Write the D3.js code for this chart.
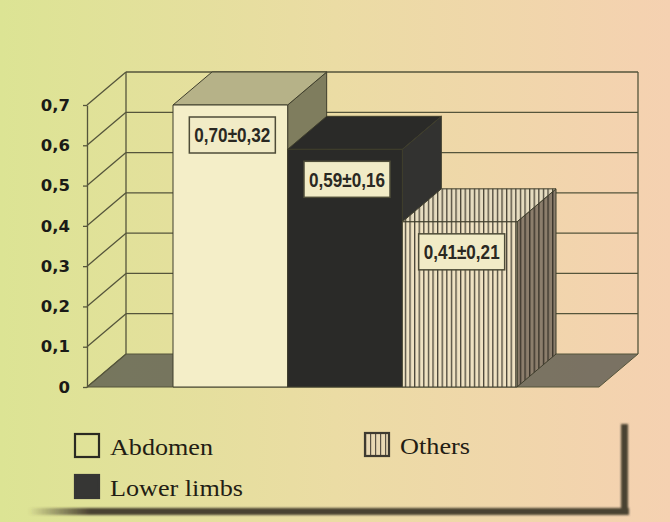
<!DOCTYPE html>
<html>
<head>
<meta charset="utf-8">
<script src="https://cdn.jsdelivr.net/npm/d3@7"></script>
<style>
  html, body { margin: 0; padding: 0; background: #e8dcaa; }
  svg { display: block; }
</style>
</head>
<body>
<svg id="chart" width="670" height="522"></svg>
<script>
// Mean values (± SD) per location
const categories = ["Abdomen", "Lower limbs", "Others"];
const means = [0.70, 0.59, 0.41];
const sds = [0.32, 0.16, 0.21];
const yTicks = [0, 0.1, 0.2, 0.3, 0.4, 0.5, 0.6, 0.7];
const yTickLabels = ["0", "0,1", "0,2", "0,3", "0,4", "0,5", "0,6", "0,7"];

const W = 670, H = 522;
const svg = d3.select("#chart");
const defs = svg.append("defs");

// comma decimal formatting
const loc = d3.formatLocale({ decimal: ",", thousands: ".", grouping: [3], currency: ["", ""] });
const f2 = loc.format(".2f");

// background gradient
const bg = defs.append("linearGradient").attr("id", "bg").attr("x1", 0).attr("x2", 1).attr("y1", 0).attr("y2", 0);
bg.append("stop").attr("offset", "0%").attr("stop-color", "#dce494");
bg.append("stop").attr("offset", "50%").attr("stop-color", "#ebdca4");
bg.append("stop").attr("offset", "100%").attr("stop-color", "#f5d1b1");
svg.append("rect").attr("width", W).attr("height", H).attr("fill", "url(#bg)");

// stripe patterns for "Others"
function stripes(id, bgColor, lineColor, step, lw) {
  const p = defs.append("pattern").attr("id", id).attr("patternUnits", "userSpaceOnUse")
    .attr("width", step).attr("height", 10);
  p.append("rect").attr("width", step).attr("height", 10).attr("fill", bgColor);
  p.append("rect").attr("x", 0).attr("width", lw).attr("height", 10).attr("fill", lineColor);
}
stripes("strFront", "#efe2c2", "#4a4538", 4.6, 1.3);
stripes("strTop", "#e6dcc0", "#4a4538", 4.6, 1.3);
stripes("strSide", "#8c7e6c", "#3c362c", 4.6, 1.4);
stripes("strLegend", "#e9d9b4", "#5a5244", 5, 1.2);

// scales
const y = d3.scaleLinear().domain([0, 0.7]).range([387, 105]);
const x = d3.scaleBand().domain(categories).range([173, 517]).padding(0);
const plotLeft = 87, plotRight = 599;
const dx = 39, dy = -33;   // oblique depth offset

const lineColor = "#55553b";

// floor
const y0 = y(0);
svg.append("path")
  .attr("d", d3.line()([[plotLeft, y0], [plotLeft + dx, y0 + dy], [plotRight + dx, y0 + dy], [plotRight, y0]]) + "Z")
  .attr("fill", "#52524a").attr("fill-opacity", 0.75)
  .attr("stroke", lineColor).attr("stroke-width", 1);

// back wall gridlines and side wall diagonals
const grid = svg.append("g").attr("stroke", lineColor).attr("stroke-width", 1.3).attr("fill", "none");
yTicks.forEach(t => {
  grid.append("line").attr("x1", plotLeft).attr("y1", y(t)).attr("x2", plotLeft + dx).attr("y2", y(t) + dy);
  if (t > 0) {
    grid.append("line").attr("x1", plotLeft + dx).attr("y1", y(t) + dy).attr("x2", plotRight + dx).attr("y2", y(t) + dy);
  }
});
grid.append("line").attr("x1", plotLeft + dx).attr("y1", y(0) + dy).attr("x2", plotLeft + dx).attr("y2", y(0.7) + dy);
grid.append("line").attr("x1", plotRight + dx).attr("y1", y(0) + dy).attr("x2", plotRight + dx).attr("y2", y(0.7) + dy);

// y axis
const axis = svg.append("g").attr("transform", `translate(${plotLeft},0)`)
  .call(d3.axisLeft(y).tickValues(yTicks).tickFormat((d, i) => yTickLabels[i]).tickSize(4).tickSizeOuter(0).tickPadding(13));
axis.select(".domain").attr("stroke", lineColor).attr("stroke-width", 1.3);
axis.selectAll(".tick line").attr("stroke", lineColor).attr("stroke-width", 1.3);
axis.selectAll(".tick text")
  .attr("font-family", "'DejaVu Sans', sans-serif").attr("font-weight", "bold")
  .attr("font-size", 16.5).attr("fill", "#1a1a17");

// bar styles: front, top, side
const styles = [
  { front: "#f4eec8", top: "#b6b288", side: "#7f7d5e" },
  { front: "#2a2a28", top: "#2a2a28", side: "#323230" },
  { front: "url(#strFront)", top: "url(#strTop)", side: "url(#strSide)" }
];

const bars = svg.append("g");
categories.forEach((c, i) => {
  const x0 = x(c), x1 = x(c) + x.bandwidth();
  const yt = y(means[i]), yb = y(0);
  const g = bars.append("g").attr("stroke", "#3f3e2c").attr("stroke-width", 1).attr("stroke-linejoin", "round");
  // right side
  g.append("path").attr("d", d3.line()([[x1, yt], [x1 + dx, yt + dy], [x1 + dx, yb + dy], [x1, yb]]) + "Z")
    .attr("fill", styles[i].side);
  // top
  g.append("path").attr("d", d3.line()([[x0, yt], [x0 + dx, yt + dy], [x1 + dx, yt + dy], [x1, yt]]) + "Z")
    .attr("fill", styles[i].top);
  // front
  g.append("rect").attr("x", x0).attr("y", yt).attr("width", x1 - x0).attr("height", yb - yt)
    .attr("fill", styles[i].front);
});

// value labels
const labels = svg.append("g");
categories.forEach((c, i) => {
  const cx = x(c) + x.bandwidth() / 2 + 2;
  const cy = y(means[i]) + 30;
  const bw = 86, bh = 36;
  labels.append("rect").attr("x", cx - bw / 2).attr("y", cy - bh / 2).attr("width", bw).attr("height", bh)
    .attr("fill", "#f1ebc6").attr("stroke", "#4e4c38").attr("stroke-width", 1.5);
  labels.append("text").attr("x", cx).attr("y", cy).attr("dy", "0.36em")
    .attr("text-anchor", "middle")
    .attr("font-family", "'Liberation Sans Narrow', 'Liberation Sans', sans-serif")
    .attr("font-weight", "bold").attr("font-size", 20).attr("fill", "#2a2822")
    .attr("textLength", 76).attr("lengthAdjust", "spacingAndGlyphs")
    .text(f2(means[i]) + "±" + f2(sds[i]));
});

// legend shadow
const blur = defs.append("filter").attr("id", "blur").attr("x", "-10%").attr("y", "-50%").attr("width", "120%").attr("height", "200%");
blur.append("feGaussianBlur").attr("stdDeviation", 1.3);
const fade = defs.append("linearGradient").attr("id", "fade").attr("gradientUnits", "userSpaceOnUse")
  .attr("x1", 28).attr("x2", 90).attr("y1", 0).attr("y2", 0);
fade.append("stop").attr("offset", "0%").attr("stop-color", "#4a4232").attr("stop-opacity", 0);
fade.append("stop").attr("offset", "100%").attr("stop-color", "#4a4232").attr("stop-opacity", 1);
const sh = svg.append("g").attr("filter", "url(#blur)");
sh.append("rect").attr("x", 28).attr("y", 508).attr("width", 601).attr("height", 7).attr("fill", "url(#fade)");
sh.append("rect").attr("x", 621).attr("y", 424).attr("width", 7).attr("height", 91).attr("fill", "#4a4232");

// legend entries
const legendItems = [
  { name: categories[0], x: 74, y: 433, w: 103, fill: "none", stroke: "#2a2a22" },
  { name: categories[1], x: 74, y: 474, w: 133, fill: "#363634", stroke: "#363634" },
  { name: categories[2], x: 364, y: 432, w: 70, fill: "url(#strLegend)", stroke: "#3e3a30" }
];
const lg = svg.append("g");
legendItems.forEach(d => {
  lg.append("rect").attr("x", d.x + 1).attr("y", d.y + 1).attr("width", 24).attr("height", 23)
    .attr("fill", d.fill).attr("stroke", d.stroke).attr("stroke-width", 2.2);
  lg.append("text").attr("x", d.x + 36).attr("y", d.y + 22)
    .attr("font-family", "'Liberation Serif', 'DejaVu Serif', 'Noto Serif', serif")
    .attr("font-size", 24).attr("fill", "#231d14")
    .attr("textLength", d.w).attr("lengthAdjust", "spacingAndGlyphs")
    .text(d.name);
});
</script>
</body>
</html>
